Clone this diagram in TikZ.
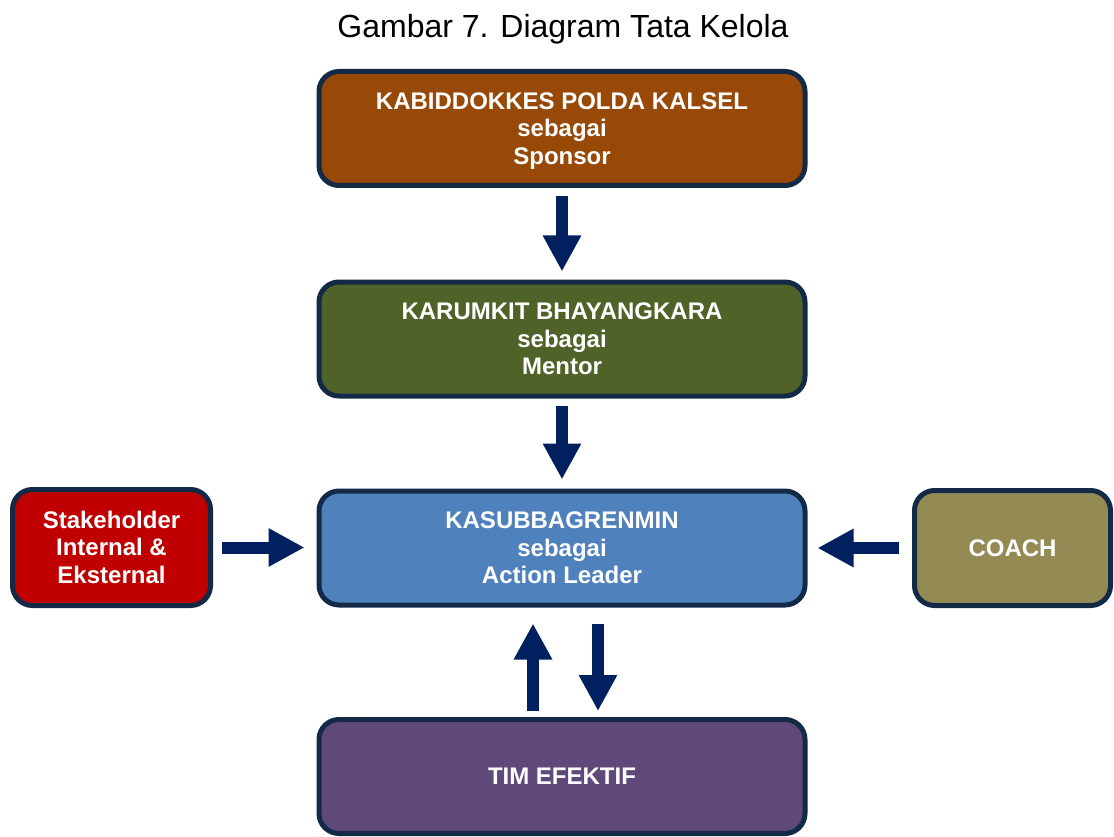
\documentclass[tikz,border=0pt]{standalone}
\usepackage{fontspec}
\setmainfont{Liberation Sans}
\usetikzlibrary{arrows.meta,calc}
\definecolor{bordc}{HTML}{132A47}
\definecolor{arrc}{HTML}{002060}
\definecolor{c1}{HTML}{984807}
\definecolor{c2}{HTML}{4F6228}
\definecolor{c3}{HTML}{4F81BD}
\definecolor{c4}{HTML}{5F497A}
\definecolor{c5}{HTML}{C00000}
\definecolor{c6}{HTML}{948A54}
\newcommand{\boxtext}[1]{\raisebox{-2.8pt}[\height][\depth]{\begin{tabular}{@{}c@{}}#1\end{tabular}}}
\tikzset{
  box/.style={draw=bordc, line width=5pt, rounded corners=20pt, text=white,
    font=\fontsize{24}{27.5}\selectfont\bfseries, inner sep=0pt},
  bigbox/.style={box, minimum width=486pt, minimum height=114pt},
  bigarrow/.style={draw=arrc, line width=12pt, -{Triangle[length=36pt,width=36pt]}}
}
\begin{document}
\begin{tikzpicture}[x=1pt,y=-1pt]
\useasboundingbox[fill=white] (0,0) rectangle (1114,837);
\node[font=\fontsize{32}{36}\selectfont] (title) at (563,29) {Gambar 7. Diagram Tata Kelola};
\node[bigbox, fill=c1] (sp) at (562,128.5) {\boxtext{KABIDDOKKES POLDA KALSEL\\sebagai\\Sponsor}};
\node[bigbox, fill=c2] (me) at (562,339) {\boxtext{KARUMKIT BHAYANGKARA\\sebagai\\Mentor}};
\node[bigbox, fill=c3] (al) at (562,548) {\boxtext{KASUBBAGRENMIN\\sebagai\\Action Leader}};
\node[bigbox, fill=c4] (tim) at (562,776.5) {\boxtext{TIM EFEKTIF}};
\node[box, fill=c5, minimum width=198pt, minimum height=116pt] (sh) at (111.5,547.5) {\boxtext{Stakeholder\\Internal \&\\Eksternal}};
\node[box, fill=c6, minimum width=196pt, minimum height=115pt] (co) at (1012.5,548) {\boxtext{COACH}};
\draw[bigarrow, shorten <=8pt, shorten >=8pt] (sp.south) -- (me.north);
\draw[bigarrow, shorten <=7pt, shorten >=9pt] (me.south) -- (al.north);
\draw[bigarrow, shorten <=9pt, shorten >=12pt] (sh.east) -- (sh.east -| al.west);
\draw[bigarrow, shorten <=13pt, shorten >=10pt] (co.west) -- (co.west -| al.east);
\draw[bigarrow, shorten <=6pt, shorten >=16pt] ([xshift=-29pt]tim.north) -- ([xshift=-29pt]al.south);
\draw[bigarrow, shorten <=16pt, shorten >=6pt] ([xshift=36pt]al.south) -- ([xshift=36pt]tim.north);
\end{tikzpicture}
\end{document}
